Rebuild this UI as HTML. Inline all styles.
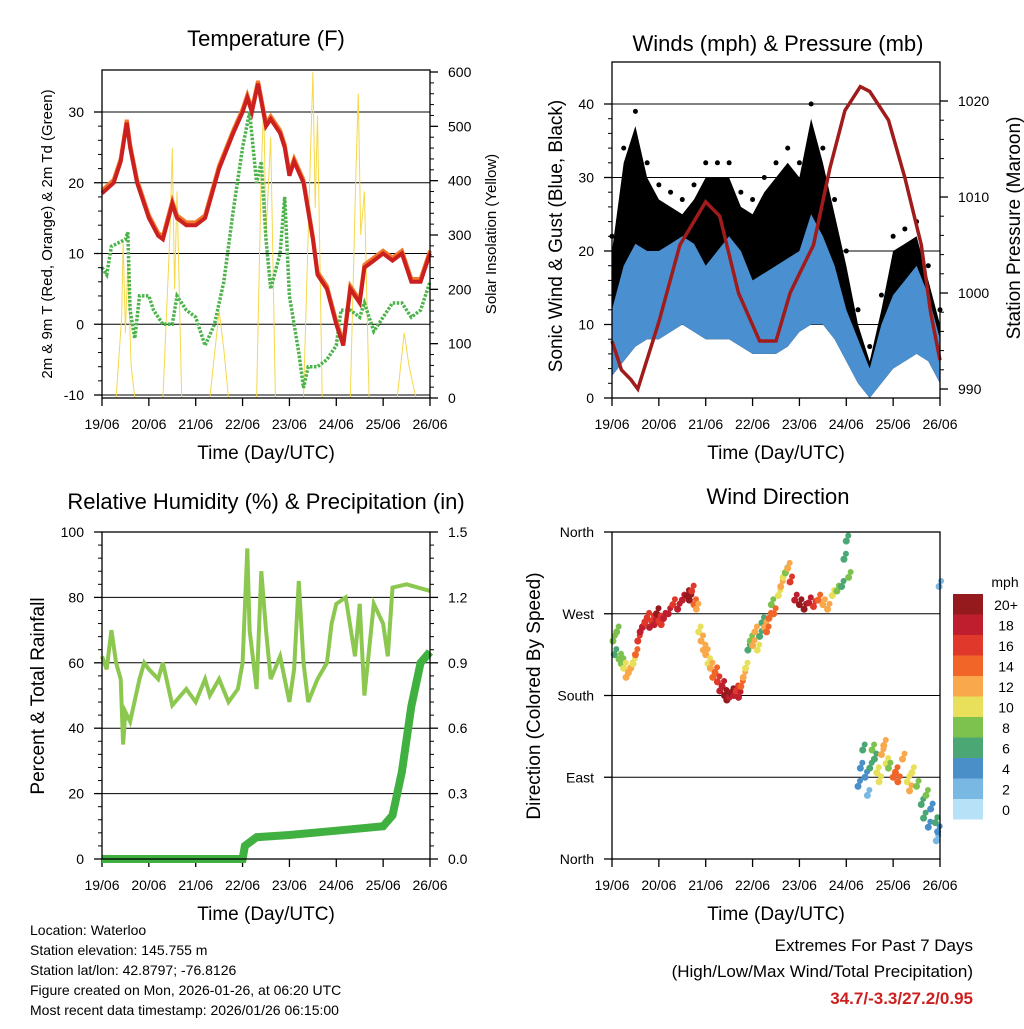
<!DOCTYPE html>
<html><head><meta charset="utf-8"><style>
body{margin:0;background:#fff;width:1024px;height:1024px;overflow:hidden}
svg{font-family:"Liberation Sans",sans-serif}
</style></head><body>
<svg id="s" width="1024" height="1024" viewBox="0 0 1024 1024" xmlns="http://www.w3.org/2000/svg"></svg>
<script>
const dayLabels=["19/06","20/06","21/06","22/06","23/06","24/06","25/06","26/06"];
// Temperature (F)
const tempT=[0,0.25,0.4,0.53,0.6,0.75,1.0,1.2,1.3,1.5,1.6,1.8,2.0,2.2,2.5,2.8,3.0,3.1,3.2,3.33,3.5,3.6,3.8,3.9,4.0,4.1,4.3,4.5,4.6,4.8,5.0,5.15,5.3,5.5,5.6,5.8,6.0,6.2,6.4,6.6,6.8,7.0];
const tempV=[18.5,20,23,28.5,25,20,15,12.5,12,17,15,14,14,15,22,27,30,32,30,34,28,29,27,25,21,23,20,12,7,5,0,-3,5,3,8,9,10,9,10,6,6,10];
const dewT=[0,0.1,0.2,0.5,0.55,0.6,0.7,0.8,1.0,1.1,1.3,1.5,1.6,1.8,2.0,2.2,2.4,2.6,2.8,3.0,3.15,3.3,3.4,3.5,3.6,3.8,3.9,4.0,4.1,4.2,4.3,4.4,4.6,4.8,5.0,5.1,5.3,5.5,5.6,5.8,6.0,6.2,6.4,6.6,6.8,7.0];
const dewV=[8,7,11,12,13,2,-2,4,4,2,0,0,4,2,1,-3,0,6,16,25,30,20,23,12,5,10,18,4,0,-4,-9,-6,-6,-5,-3,2,2,1,3,-1,1,3,3,1,2,6];
const solarT=[0.3,0.42,0.45,0.5,0.55,0.62,0.7,1.3,1.45,1.5,1.55,1.6,1.7,2.3,2.45,2.5,2.6,2.7,3.3,3.4,3.45,3.5,3.6,3.7,4.3,4.45,4.5,4.55,4.6,4.7,5.3,5.42,5.47,5.52,5.6,5.7,6.3,6.45,6.5,6.55,6.7];
const solarV=[0,150,290,120,250,60,0,0,300,460,200,380,0,0,120,160,90,0,0,420,540,300,480,0,0,450,600,350,520,0,0,420,560,300,380,0,0,120,90,60,0];
// Winds
const windT=[0,0.25,0.5,0.75,1,1.25,1.5,1.75,2,2.25,2.5,2.75,3,3.25,3.5,3.75,4,4.25,4.5,4.75,5,5.25,5.5,5.75,6,6.25,6.5,6.75,7];
const windLo=[3,5,7,8,8,9,10,9,8,8,8,7,6,6,6,7,9,10,10,8,5,2,0,2,4,5,6,5,2];
const windHi=[12,18,21,20,20,21,22,21,18,20,22,20,16,17,18,19,20,25,22,18,12,8,4,10,14,16,18,14,8];
const gustHi=[20,32,37,30,27,26,25,27,30,30,30,26,25,28,30,32,30,38,32,25,18,10,5,12,20,21,22,16,10];
const presT=[0,0.2,0.4,0.55,1.0,1.45,2.0,2.3,2.7,3.15,3.5,3.8,4.0,4.3,4.65,4.97,5.3,5.5,5.9,6.25,6.6,6.8,7.0];
const presV=[995,992,991,990,997,1005,1009.5,1008,1000,995,995,1000,1002,1005,1013,1019,1021.5,1021,1018,1012,1005,998,993];
// RH & rain
const rhT=[0,0.1,0.2,0.3,0.4,0.45,0.5,0.6,0.8,0.9,1.0,1.2,1.3,1.5,1.8,2.0,2.2,2.3,2.5,2.7,2.9,3.0,3.1,3.15,3.3,3.4,3.5,3.6,3.8,4.0,4.1,4.2,4.3,4.4,4.6,4.8,4.9,5.0,5.2,5.4,5.5,5.6,5.8,6.0,6.1,6.2,6.5,7.0];
const rhV=[62,58,70,60,55,35,45,42,55,60,58,55,60,47,52,48,55,50,55,48,52,60,95,70,52,88,70,55,62,48,58,85,60,48,55,60,72,78,80,62,78,50,78,72,62,83,84,82];
const rainT=[0,3.0,3.05,3.3,4.0,5.0,6.0,6.2,6.4,6.6,6.8,7.0];
const rainV=[0,0,0.06,0.1,0.11,0.13,0.15,0.2,0.4,0.7,0.9,0.95];
// Wind direction
const dirT=[0.02,0.05,0.1,0.15,0.2,0.25,0.3,0.35,0.4,0.45,0.5,0.55,0.6,0.65,0.7,0.75,0.8,0.85,0.9,0.95,1.0,1.05,1.1,1.2,1.3,1.4,1.5,1.6,1.65,1.7,1.75,1.8,1.85,1.9,1.95,2.0,2.05,2.1,2.15,2.2,2.25,2.3,2.35,2.4,2.45,2.5,2.55,2.6,2.65,2.7,2.75,2.8,2.85,2.9,2.95,3.0,3.05,3.1,3.15,3.2,3.25,3.3,3.35,3.4,3.45,3.55,3.6,3.65,3.7,3.75,3.8,3.9,4.0,4.1,4.2,4.3,4.4,4.5,4.6,4.7,4.8,4.9,4.95,5.0,5.05,5.25,5.3,5.35,5.4,5.45,5.5,5.55,5.6,5.65,5.7,5.75,5.8,5.85,5.9,6.0,6.05,6.1,6.2,6.3,6.35,6.4,6.5,6.6,6.65,6.7,6.75,6.8,6.9,6.92,6.95,6.98];
const dirDeg=[240,225,250,220,215,210,200,205,210,215,225,240,250,255,260,265,255,262,258,270,262,258,265,270,280,275,285,290,285,295,280,275,250,240,230,225,215,210,200,205,195,185,190,180,175,178,182,180,185,178,190,200,210,230,240,235,250,230,245,260,255,250,265,280,270,290,300,310,315,320,305,285,280,275,282,278,285,280,275,290,295,300,330,350,310,80,100,120,90,70,100,120,110,95,85,115,125,105,100,90,95,85,110,85,75,95,80,60,45,70,35,55,40,20,30,300,330,15];
const dirSpd=[8,6,7,8,8,10,11,12,12,10,14,16,17,18,16,15,17,16,18,19,16,15,17,18,16,17,18,19,20,16,14,12,10,11,12,11,10,12,13,14,16,17,18,19,20,18,19,17,16,18,14,12,9,6,8,12,11,10,6,5,12,14,13,8,14,10,11,9,8,12,16,18,20,19,17,15,14,12,11,9,7,6,5,6,8,3,4,5,3,2,6,8,6,10,9,11,12,10,8,14,13,14,12,10,11,9,8,6,5,7,4,3,6,2,3,2,1,4];
const cbLabels=["20+","18","16","14","12","10","8","6","4","2","0"];
const cbColors=["#951a1e","#be1e2d","#e0392b","#f26529","#f9a94b","#e8e05a","#7dc24f","#4ba773","#4a8fc8","#7ab8e4","#b7e1f7"];

const S=document.getElementById('s');const NS="http://www.w3.org/2000/svg";
function mk(tag,attrs,parent,name){const e=document.createElementNS(NS,tag);for(const k in attrs)e.setAttribute(k,attrs[k]);


(parent||S).appendChild(e);return e;}
function txt(x,y,s,size,name,opt){const e=mk('text',Object.assign({x:x,y:y,'font-size':size,'text-anchor':'middle',fill:'#000'},opt||{}),S,name);e.textContent=s;return e;}
function lin(a0,a1,p0,p1){return v=>p0+(v-a0)/(a1-a0)*(p1-p0);}
function path(xs,ys,X,Y){return xs.map((t,i)=>(i?'L':'M')+X(t).toFixed(1)+','+Y(ys[i]).toFixed(1)).join('');}
function frame(x0,y0,x1,y1,name){mk('rect',{x:x0,y:y0,width:x1-x0,height:y1-y0,fill:'none',stroke:'#000','stroke-width':1.3},S,name);}
function xAxis(x0,x1,y0,y1,name){const X=lin(0,7,x0,x1);dayLabels.forEach((l,i)=>{const x=X(i);
mk('line',{x1:x,y1:y1,x2:x,y2:y1+8,stroke:'#000','stroke-width':1.3},S,'x-tick');
txt(x,y1+31,l,14,'x-tick-label');});
txt((x0+x1)/2,y1+61,'Time (Day/UTC)',19,name);return X;}
function yTicks(vals,labels,Y,x0,x1,side,grid,name,minor){vals.forEach((v,i)=>{const y=Y(v);
if(grid)mk('line',{x1:x0,y1:y,x2:x1,y2:y,stroke:'#000','stroke-width':1},S,'grid-line');
const xx=side=='l'?x0:x1;mk('line',{x1:xx,y1:y,x2:side=='l'?xx-8:xx+8,y2:y,stroke:'#000','stroke-width':1.3},S,'y-tick');
if(minor&&i<vals.length-1){for(let k=1;k<5;k++){const ym=Y(v+(vals[i+1]-v)*k/5);
mk('line',{x1:xx,y1:ym,x2:side=='l'?xx-4:xx+4,y2:ym,stroke:'#000'},S,'y-minor-tick');}}
txt(side=='l'?x0-18:x1+18,y+5,labels[i],14,name,{'text-anchor':side=='l'?'end':'start'});});}

// ---- Panel 1: Temperature
{const x0=102,x1=430,y0=70,y1=398;const X=xAxis(x0,x1,y0,y1,'temp-x-axis-title');
const Y=lin(-10,30,395,112),Ys=lin(0,600,398,72);
yTicks([-10,0,10,20,30],["-10","0","10","20","30"],Y,x0,x1,'l',true,'temp-y-tick-label',true);
yTicks([0,100,200,300,400,500,600],["0","100","200","300","400","500","600"],Ys,x0,x1,'r',false,'solar-y-tick-label',true);
mk('path',{d:path(solarT,solarV,X,Ys),fill:'none',stroke:'#f6d84a','stroke-width':1},S,'solar-line');
mk('path',{d:path(dewT,dewV,X,Y),fill:'none',stroke:'#4cb34a','stroke-width':3.5,'stroke-dasharray':'2.5 1.5'},S,'dewpoint-line');
mk('path',{d:path(tempT,tempV.map(v=>v+0.4),X,Y),fill:'none',stroke:'#f07828','stroke-width':4},S,'temp-9m-line');
mk('path',{d:path(tempT,tempV,X,Y),fill:'none',stroke:'#cc2020','stroke-width':4},S,'temp-2m-line');
frame(x0,y0,x1,y1,'temp-plot-frame');
txt(266,46,'Temperature (F)',22,'temp-title');
txt(52,234,'2m & 9m T (Red, Orange) & 2m Td (Green)',15,'temp-y-axis-title',{transform:'rotate(-90 52 234)'});
txt(496,234,'Solar Insolation (Yellow)',15,'solar-y-axis-title',{transform:'rotate(-90 496 234)'});}

// ---- Panel 2: Winds
{const x0=612,x1=940,y0=62,y1=398;const X=xAxis(x0,x1,y0,y1,'wind-x-axis-title');
const Y=lin(0,40,398,104),Yp=lin(990,1020,389,101);
yTicks([0,10,20,30,40],["0","10","20","30","40"],Y,x0,x1,'l',true,'wind-y-tick-label',true);
yTicks([990,1000,1010,1020],["990","1000","1010","1020"],Yp,x0,x1,'r',false,'pressure-y-tick-label',true);
const band=(lo,hi)=>path(windT,hi,X,Y)+path(windT.slice().reverse(),lo.slice().reverse(),X,Y).replace('M','L')+'Z';
mk('path',{d:band(windLo,gustHi),fill:'#000'},S,'gust-band');
windT.forEach((t,i)=>{mk('circle',{cx:X(t),cy:Y(gustHi[i]+2),r:2.5,fill:'#000'},S,'gust-peak-dot');});
mk('path',{d:band(windLo,windHi),fill:'#4a90d0'},S,'wind-band');
mk('path',{d:path(presT,presV,X,Yp),fill:'none',stroke:'#a01c1c','stroke-width':3.5},S,'pressure-line');
frame(x0,y0,x1,y1,'wind-plot-frame');
txt(778,51,'Winds (mph) & Pressure (mb)',22,'wind-title');
txt(562,236,'Sonic Wind & Gust (Blue, Black)',19,'wind-y-axis-title',{transform:'rotate(-90 562 236)'});
txt(1020,228,'Station Pressure (Maroon)',19,'pressure-y-axis-title',{transform:'rotate(-90 1020 228)'});}

// ---- Panel 3: RH
{const x0=102,x1=430,y0=532,y1=859;const X=xAxis(x0,x1,y0,y1,'rh-x-axis-title');
const Y=lin(0,100,859,532),Yr=lin(0,1.5,859,532);
yTicks([0,20,40,60,80,100],["0","20","40","60","80","100"],Y,x0,x1,'l',true,'rh-y-tick-label',true);
yTicks([0,0.3,0.6,0.9,1.2,1.5],["0.0","0.3","0.6","0.9","1.2","1.5"],Yr,x0,x1,'r',false,'rain-y-tick-label',true);
mk('path',{d:path(rhT,rhV,X,Y),fill:'none',stroke:'#8cc850','stroke-width':4},S,'rh-line');
mk('path',{d:path(rainT,rainV,X,Yr),fill:'none',stroke:'#40b040','stroke-width':8},S,'rain-line');
frame(x0,y0,x1,y1,'rh-plot-frame');
txt(266,509,'Relative Humidity (%) & Precipitation (in)',22,'rh-title');
txt(44,696,'Percent & Total Rainfall',19,'rh-y-axis-title',{transform:'rotate(-90 44 696)'});}

// ---- Panel 4: Wind direction
{const x0=612,x1=940,y0=532,y1=859;const X=xAxis(x0,x1,y0,y1,'dir-x-axis-title');
const Y=lin(0,360,859,532);
yTicks([0,90,180,270,360],["North","East","South","West","North"],Y,x0,x1,'l',true,'dir-y-tick-label',false);
const col=s=>cbColors[10-Math.min(10,Math.round(s/2))];
dirT.forEach((t,i)=>{mk('circle',{cx:X(t),cy:Y(dirDeg[i]),r:3.5,fill:col(dirSpd[i])},S,'dir-point');
mk('circle',{cx:X(t)+2,cy:Y(dirDeg[i]+6),r:3,fill:col(dirSpd[i])},S,'dir-point');});
frame(x0,y0,x1,y1,'dir-plot-frame');
txt(778,504,'Wind Direction',22,'dir-title');
txt(540,696,'Direction (Colored By Speed)',19,'dir-y-axis-title',{transform:'rotate(-90 540 696)'});
txt(1005,587,'mph',14,'colorbar-title');
cbColors.forEach((c,i)=>{mk('rect',{x:953,y:594+i*20.5,width:30,height:20.5,fill:c},S,'colorbar-box');
txt(1006,610+i*20.5,cbLabels[i],14,'colorbar-label');});}

// ---- footer
const info=["Location: Waterloo","Station elevation: 145.755 m","Station lat/lon: 42.8797; -76.8126","Figure created on Mon, 2026-01-26, at 06:20 UTC","Most recent data timestamp: 2026/01/26 06:15:00"];
info.forEach((s,i)=>txt(30,935+i*20,s,14,'info-line',{'text-anchor':'start'}));
txt(973,951,'Extremes For Past 7 Days',17,'extremes-title',{'text-anchor':'end'});
txt(973,977,'(High/Low/Max Wind/Total Precipitation)',17,'extremes-subtitle',{'text-anchor':'end'});
txt(973,1004,'34.7/-3.3/27.2/0.95',17,'extremes-values',{'text-anchor':'end',fill:'#cc2020','font-weight':'bold'});
</script>
</body></html>
